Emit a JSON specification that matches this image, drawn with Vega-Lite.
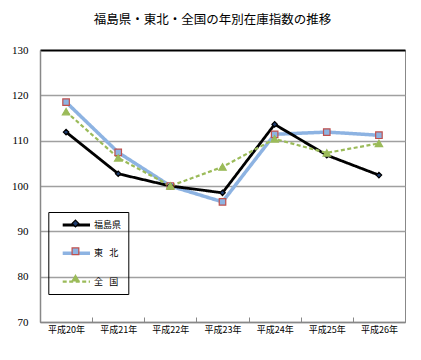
{
  "$schema": "https://vega.github.io/schema/vega-lite/v6.json",
  "width": 365,
  "height": 272,
  "autosize": {"type": "none"},
  "padding": {"left": 40, "top": 50, "right": 16, "bottom": 38},
  "background": "white",
  "title": {
    "text": "福島県・東北・全国の年別在庫指数の推移",
    "font": "Noto Sans CJK JP",
    "fontSize": 12.5,
    "fontWeight": "normal",
    "color": "#000000",
    "offset": 18,
    "dx": -10
  },
  "config": {
    "view": {"stroke": "#888888", "strokeWidth": 1},
    "axis": {"labelColor": "#000000"}
  },
  "data": {
    "values": [
      {"year": "平成20年", "series": "東 北", "marker": "東 北", "value": 118.5},
      {"year": "平成21年", "series": "東 北", "marker": "東 北", "value": 107.4},
      {"year": "平成22年", "series": "東 北", "marker": "東 北", "value": 100.0},
      {"year": "平成23年", "series": "東 北", "marker": "東 北", "value": 96.5},
      {"year": "平成24年", "series": "東 北", "marker": "東 北", "value": 111.4},
      {"year": "平成25年", "series": "東 北", "marker": "東 北", "value": 111.9},
      {"year": "平成26年", "series": "東 北", "marker": "東 北", "value": 111.2},
      {"year": "平成20年", "series": "福島県", "marker": "福島県", "value": 111.9},
      {"year": "平成21年", "series": "福島県", "marker": "福島県", "value": 102.7},
      {"year": "平成22年", "series": "福島県", "marker": "福島県", "value": 100.0},
      {"year": "平成23年", "series": "福島県", "marker": "福島県", "value": 98.5},
      {"year": "平成24年", "series": "福島県", "marker": "福島県", "value": 113.6},
      {"year": "平成25年", "series": "福島県", "marker": "福島県", "value": 106.8},
      {"year": "平成26年", "series": "福島県", "marker": "福島県", "value": 102.4},
      {"year": "平成20年", "series": "全 国", "marker": "全 国", "value": 116.4},
      {"year": "平成21年", "series": "全 国", "marker": "全 国", "value": 106.2},
      {"year": "平成22年", "series": "全 国", "marker": "全 国", "value": 100.0},
      {"year": "平成23年", "series": "全 国", "marker": "全 国", "value": 104.2},
      {"year": "平成24年", "series": "全 国", "marker": "全 国", "value": 110.4},
      {"year": "平成25年", "series": "全 国", "marker": "全 国", "value": 107.3},
      {"year": "平成26年", "series": "全 国", "marker": "全 国", "value": 109.4}
    ]
  },
  "encoding": {
    "x": {
      "field": "year",
      "type": "ordinal",
      "title": null,
      "scale": {"paddingInner": 0, "paddingOuter": 0},
      "axis": {
        "labelAngle": 0,
        "labelFont": "Noto Sans CJK JP",
        "labelFontSize": 9,
        "labelPadding": 8,
        "domainColor": "#888888",
        "domainWidth": 1.5,
        "tickColor": "#888888",
        "tickWidth": 1,
        "tickBand": "extent",
        "tickSize": -5,
        "grid": false
      }
    },
    "y": {
      "field": "value",
      "type": "quantitative",
      "title": null,
      "scale": {"domain": [70, 130], "nice": false, "zero": false},
      "axis": {
        "values": [70, 80, 90, 100, 110, 120, 130],
        "labelFont": "Liberation Serif",
        "labelFontSize": 11,
        "labelPadding": 12,
        "ticks": false,
        "domainColor": "#888888",
        "domainWidth": 1.5,
        "grid": true,
        "gridColor": {"condition": {"test": "datum.value === 130", "value": "#000000"}, "value": "#a0a0a0"},
        "gridWidth": {"condition": {"test": "datum.value === 130", "value": 2}, "value": 1.5}
      }
    }
  },
  "layer": [
    {
      "mark": {"type": "line"},
      "encoding": {
        "color": {
          "field": "series",
          "type": "nominal",
          "sort": "descending",
          "scale": {"range": ["#000000", "#8db3e2", "#9bbb59"]},
          "legend": {
            "orient": "none",
            "legendX": 8.3,
            "legendY": 162,
            "title": null,
            "symbolType": "M0.2,0H6.27",
            "symbolSize": 81,
            "labelFont": "Noto Sans CJK JP",
            "labelFontSize": 9,
            "labelColor": "#000000",
            "labelOffset": 25.7,
            "labelExpr": "(datum.label == '福島県' ? datum.label : '\u2002' + replace(datum.label, ' ', '\u2002\u2009')) + '\u3000'",
            "rowPadding": 14.8,
            "padding": 7,
            "strokeColor": "#000000",
            "zindex": 0
          }
        },
        "strokeDash": {
          "field": "series",
          "type": "nominal",
          "sort": "descending",
          "scale": {"range": [[1, 0], [1, 0], [4, 2.5]]},
          "legend": {
            "orient": "none",
            "legendX": 8.3,
            "legendY": 162,
            "title": null,
            "symbolType": "M0.2,0H6.27",
            "symbolSize": 81,
            "labelFont": "Noto Sans CJK JP",
            "labelFontSize": 9,
            "labelColor": "#000000",
            "labelOffset": 25.7,
            "labelExpr": "(datum.label == '福島県' ? datum.label : '\u2002' + replace(datum.label, ' ', '\u2002\u2009')) + '\u3000'",
            "rowPadding": 14.8,
            "padding": 7,
            "strokeColor": "#000000",
            "zindex": 0
          }
        },
        "strokeWidth": {
          "field": "series",
          "type": "nominal",
          "sort": "descending",
          "scale": {"type": "ordinal", "range": [2.8, 3.5, 2.2]},
          "legend": {
            "orient": "none",
            "legendX": 8.3,
            "legendY": 162,
            "title": null,
            "symbolType": "M0.2,0H6.27",
            "symbolSize": 81,
            "labelFont": "Noto Sans CJK JP",
            "labelFontSize": 9,
            "labelColor": "#000000",
            "labelOffset": 25.7,
            "labelExpr": "(datum.label == '福島県' ? datum.label : '\u2002' + replace(datum.label, ' ', '\u2002\u2009')) + '\u3000'",
            "rowPadding": 14.8,
            "padding": 7,
            "strokeColor": "#000000",
            "zindex": 0
          }
        }
      }
    },
    {
      "mark": {"type": "point", "filled": true, "opacity": 1, "strokeWidth": 1.2},
      "encoding": {
        "shape": {
          "field": "marker",
          "type": "nominal",
          "sort": "descending",
          "scale": {"range": ["diamond", "square", "triangle-up"]},
          "legend": {
            "orient": "none",
            "legendX": 23.95,
            "legendY": 162,
            "title": null,
            "symbolSize": 45,
            "symbolStrokeWidth": 1.2,
            "labelFontSize": 9,
            "labelFont": "Noto Sans CJK JP",
            "labelExpr": "'\u3000'",
            "labelOffset": 0,
            "rowPadding": 14.8,
            "padding": 7,
            "zindex": 1
          }
        },
        "fill": {
          "field": "marker",
          "type": "nominal",
          "sort": "descending",
          "scale": {"range": ["#1f3c6e", "#8db3e2", "#9bbb59"]},
          "legend": {
            "orient": "none",
            "legendX": 23.95,
            "legendY": 162,
            "title": null,
            "symbolSize": 45,
            "symbolStrokeWidth": 1.2,
            "labelFontSize": 9,
            "labelFont": "Noto Sans CJK JP",
            "labelExpr": "'\u3000'",
            "labelOffset": 0,
            "rowPadding": 14.8,
            "padding": 7,
            "zindex": 1
          }
        },
        "stroke": {
          "field": "marker",
          "type": "nominal",
          "sort": "descending",
          "scale": {"range": ["#000000", "#c0504d", "#9bbb59"]},
          "legend": {
            "orient": "none",
            "legendX": 23.95,
            "legendY": 162,
            "title": null,
            "symbolSize": 45,
            "symbolStrokeWidth": 1.2,
            "labelFontSize": 9,
            "labelFont": "Noto Sans CJK JP",
            "labelExpr": "'\u3000'",
            "labelOffset": 0,
            "rowPadding": 14.8,
            "padding": 7,
            "zindex": 1
          }
        },
        "size": {
          "field": "marker",
          "type": "nominal",
          "scale": {"domain": ["福島県", "東 北", "全 国"], "range": [30, 55, 45]},
          "legend": null
        }
      }
    }
  ]
}
